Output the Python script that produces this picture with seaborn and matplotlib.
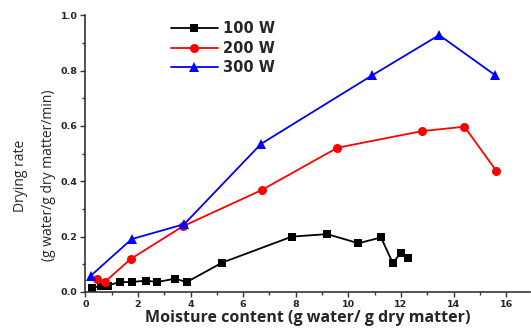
import matplotlib
matplotlib.use("Agg")
import matplotlib.pyplot as plt
from matplotlib.ticker import MultipleLocator, FormatStrFormatter
import seaborn as sns
import pandas as pd

# Drying rate vs moisture content at three microwave power levels
x_100w = [0.24, 0.58, 0.85, 1.30, 1.76, 2.30, 2.74, 3.40, 3.86, 5.20, 7.85, 9.20, 10.38, 11.24, 11.69, 11.99, 12.27]
y_100w = [0.013, 0.023, 0.023, 0.036, 0.036, 0.041, 0.036, 0.048, 0.036, 0.106, 0.200, 0.209, 0.176, 0.197, 0.104, 0.142, 0.122]

x_200w = [0.43, 0.75, 1.72, 3.70, 6.70, 9.58, 12.79, 14.41, 15.62]
y_200w = [0.046, 0.037, 0.119, 0.237, 0.368, 0.521, 0.581, 0.597, 0.438]

x_300w = [0.20, 1.76, 3.76, 6.68, 10.91, 13.45, 15.58]
y_300w = [0.058, 0.191, 0.245, 0.535, 0.783, 0.928, 0.783]

series_labels = ["100 W", "200 W", "300 W"]
x_ticks = [0, 2, 4, 6, 8, 10, 12, 14, 16]

sns.set_theme(style="ticks")
plt.rcParams["font.family"] = ["DejaVu Sans"]

fig = plt.figure(figsize=(5.31, 3.29), dpi=100)
ax = fig.add_axes([0.1607, 0.1125, 0.8373, 0.8415])

styles = [("black", "s", 5.5), ("#ff0000", "o", 6.5), ("#0000ff", "^", 7)]
for xs, ys, lab, (col, mk, ms) in zip([x_100w, x_200w, x_300w],
                                      [y_100w, y_200w, y_300w],
                                      series_labels, styles):
    df = pd.DataFrame({"x": xs, "y": ys})
    sns.lineplot(data=df, x="x", y="y", sort=False, estimator=None, ax=ax,
                 color=col, marker=mk, markersize=ms, markeredgewidth=0,
                 linewidth=1.3, label=lab)

ax.set_xlim(0, 16.9)
ax.set_ylim(0, 1.0)
ax.set_xticks(x_ticks)
ax.xaxis.set_minor_locator(MultipleLocator(1))
ax.yaxis.set_major_locator(MultipleLocator(0.2))
ax.yaxis.set_minor_locator(MultipleLocator(0.1))
ax.yaxis.set_major_formatter(FormatStrFormatter("%.1f"))

for lbl in ax.get_xticklabels() + ax.get_yticklabels():
    lbl.set_fontweight("bold")
    lbl.set_fontsize(6.8)

ax.tick_params(which="major", direction="out", length=3.5, width=1, color="#333333", pad=2)
ax.tick_params(which="minor", direction="out", length=2, width=1, color="#333333")

sns.despine(ax=ax)
for side in ("left", "bottom"):
    ax.spines[side].set_linewidth(1.2)
    ax.spines[side].set_color("#333333")

ax.set_xlabel("Moisture content (g water/ g dry matter)", fontsize=11.5,
              fontweight="bold", family="Open Sans", labelpad=1)
ax.set_ylabel("Drying rate\n(g water/g dry matter/min)", fontsize=10,
              family="Open Sans", linespacing=2.2)
ax.yaxis.set_label_coords(-0.066, 0.42)

leg = ax.legend(loc="upper left", bbox_to_anchor=(0.163, 1.025), frameon=False,
                handlelength=3.2, handletextpad=0.35, labelspacing=0.3,
                prop={"weight": "bold", "size": 10.5, "family": "DejaVu Sans"})

fig.savefig("out.png", dpi=100)
